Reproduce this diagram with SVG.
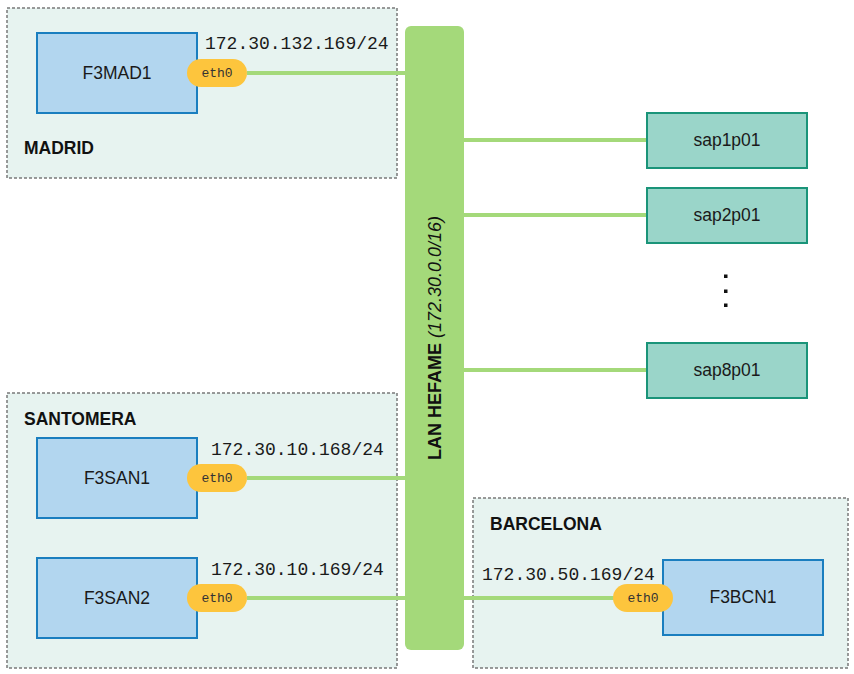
<svg xmlns="http://www.w3.org/2000/svg" width="854" height="674" viewBox="0 0 854 674">
<style>
.region{fill:#e7f3f0;stroke:#7a7a7a;stroke-width:1.5;stroke-dasharray:3 2}
.host{fill:#b2d6ef;stroke:#1a7ebf;stroke-width:2}
.sap{fill:#9ad5c9;stroke:#1a9479;stroke-width:2}
.pill{fill:#fdc53d}
.link{stroke:#a4d97a;stroke-width:4;fill:none}
.lbl{font-family:"Liberation Sans",Arial,sans-serif;font-size:17.5px;fill:#1a1a1a;text-anchor:middle;dominant-baseline:central}
.reg{font-family:"Liberation Sans",Arial,sans-serif;font-size:17.5px;font-weight:bold;fill:#111}
.ip{font-family:"Liberation Mono","Courier New",monospace;font-size:18px;fill:#1a1a1a}
.eth{font-family:"Liberation Mono","Courier New",monospace;font-size:13px;fill:#333;text-anchor:middle;dominant-baseline:central}
</style>
<g id="madrid">
<rect class="region" x="7" y="8" width="390" height="170"/>
<text class="reg" x="24" y="154">MADRID</text>
</g>
<g id="santomera">
<rect class="region" x="7" y="393" width="390" height="275"/>
<text class="reg" x="24" y="425">SANTOMERA</text>
</g>
<g id="barcelona">
<rect class="region" x="473" y="498" width="375" height="170"/>
<text class="reg" x="490" y="530">BARCELONA</text>
</g>
<g id="connectors">
<line class="link" x1="247" y1="73" x2="406" y2="73"/>
<line class="link" x1="247" y1="478" x2="406" y2="478"/>
<line class="link" x1="247" y1="598" x2="406" y2="598"/>
<line class="link" x1="463" y1="598" x2="614" y2="598"/>
<line class="link" x1="463" y1="140" x2="647" y2="140"/>
<line class="link" x1="463" y1="215" x2="647" y2="215"/>
<line class="link" x1="463" y1="370" x2="647" y2="370"/>
</g>
<g id="lan">
<rect x="405" y="26" width="59" height="624" rx="6" fill="#a4d97a"/>
<text transform="translate(441 338) rotate(-90)" font-family="'Liberation Sans',Arial,sans-serif" font-size="18" fill="#111" text-anchor="middle"><tspan font-weight="bold">LAN HEFAME </tspan><tspan font-style="italic">(172.30.0.0/16)</tspan></text>
</g>
<g id="F3MAD1">
<rect class="host" x="37" y="33" width="160" height="80"/>
<text class="lbl" x="117" y="73">F3MAD1</text>
<rect class="pill" x="187" y="59" width="60" height="28" rx="14"/>
<text class="eth" x="217" y="73">eth0</text>
<text class="ip" x="205" y="49">172.30.132.169/24</text>
</g>
<g id="F3SAN1">
<rect class="host" x="37" y="438" width="160" height="80"/>
<text class="lbl" x="117" y="478">F3SAN1</text>
<rect class="pill" x="187" y="464" width="60" height="28" rx="14"/>
<text class="eth" x="217" y="478">eth0</text>
<text class="ip" x="211" y="455">172.30.10.168/24</text>
</g>
<g id="F3SAN2">
<rect class="host" x="37" y="558" width="160" height="80"/>
<text class="lbl" x="117" y="598">F3SAN2</text>
<rect class="pill" x="187" y="584" width="60" height="28" rx="14"/>
<text class="eth" x="217" y="598">eth0</text>
<text class="ip" x="211" y="575">172.30.10.169/24</text>
</g>
<g id="F3BCN1">
<rect class="host" x="663" y="560" width="160" height="75"/>
<text class="lbl" x="743" y="597">F3BCN1</text>
<rect class="pill" x="613" y="584" width="60" height="28" rx="14"/>
<text class="eth" x="643" y="598">eth0</text>
<text class="ip" x="482" y="580">172.30.50.169/24</text>
</g>
<g id="sap1p01">
<rect class="sap" x="647" y="113" width="160" height="55"/>
<text class="lbl" x="727" y="140">sap1p01</text>
</g>
<g id="sap2p01">
<rect class="sap" x="647" y="188" width="160" height="55"/>
<text class="lbl" x="727" y="215">sap2p01</text>
</g>
<g id="ellipsis" fill="#111">
<rect x="724" y="274.5" width="3.5" height="3.5"/>
<rect x="724" y="289.5" width="3.5" height="3.5"/>
<rect x="724" y="303.5" width="3.5" height="3.5"/>
</g>
<g id="sap8p01">
<rect class="sap" x="647" y="343" width="160" height="55"/>
<text class="lbl" x="727" y="370">sap8p01</text>
</g>
</svg>
